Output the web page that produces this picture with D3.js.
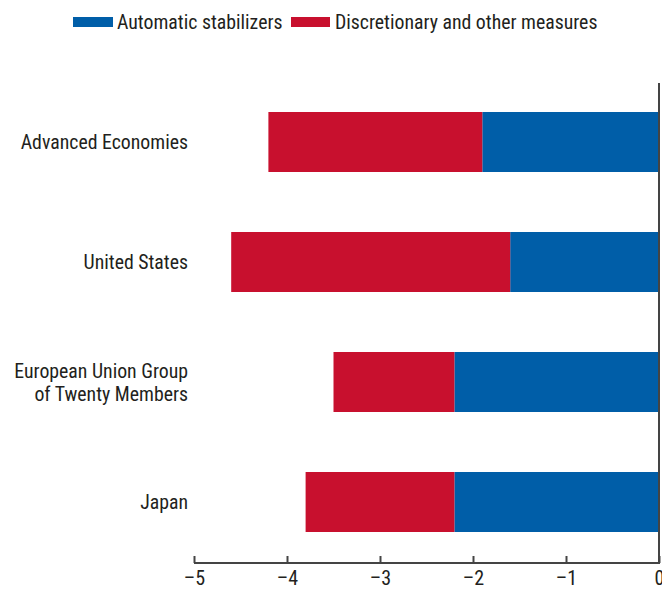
<!DOCTYPE html>
<html><head><meta charset="utf-8">
<script src="https://cdn.jsdelivr.net/npm/d3@7"></script>
<style>body{margin:0;background:#fff}svg{display:block}text{font-family:"Liberation Sans Narrow","Arial Narrow","Roboto Condensed",Roboto,sans-serif;fill:#231f20}</style>
</head><body><svg id="c" width="662" height="590"></svg>
<script>
const categories = [["Advanced Economies"],["United States"],["European Union Group","of Twenty Members"],["Japan"]];
const automatic = [-1.9, -1.6, -2.2, -2.2];
const discretionary = [-2.3, -3.0, -1.3, -1.6];
const seriesNames = ["Automatic stabilizers","Discretionary and other measures"];
const colors = ["#005ea8","#c8102e"];
const ticks = [-5,-4,-3,-2,-1,0];

const svg = d3.select("#c");
const x = d3.scaleLinear().domain([-5,0]).range([194,659]);
const y = d3.scaleBand().domain(d3.range(categories.length)).range([82,562]).paddingInner(0.5).paddingOuter(0.25);

const stack = categories.map((c,i)=>[[0,automatic[i]],[automatic[i],automatic[i]+discretionary[i]]]);
seriesNames.forEach((s,k)=>{
  svg.append("g").selectAll("rect").data(stack).join("rect")
    .attr("x",d=>x(Math.min(d[k][0],d[k][1])))
    .attr("width",d=>Math.abs(x(d[k][1])-x(d[k][0])))
    .attr("y",(d,i)=>y(i)).attr("height",y.bandwidth())
    .attr("fill",colors[k]);
});

// category labels
categories.forEach((lines,i)=>{
  const cy = y(i)+y.bandwidth()/2;
  const t = svg.append("text").attr("text-anchor","end").attr("font-size",19.8);
  lines.forEach((l,j)=>{
    t.append("tspan").attr("x",188).attr("y",cy + 7 + (j-(lines.length-1)/2)*23).text(l);
  });
});

// x axis
const ax = svg.append("g").attr("transform","translate(0,563)")
  .call(d3.axisBottom(x).tickValues(ticks).tickSize(-7).tickPadding(22).tickFormat(d=>d<0?"\u2013"+Math.abs(d):d));
ax.select(".domain").attr("stroke","#444").attr("stroke-width",2).attr("d","M"+x(-5)+",0H"+x(0));
ax.selectAll(".tick line").attr("stroke","#444").attr("stroke-width",2);
ax.selectAll(".tick text").attr("font-size",20).attr("font-family",'"Liberation Sans Narrow","Arial Narrow",Roboto,sans-serif').attr("fill","#231f20").attr("dy","0");
// zero line
svg.append("line").attr("x1",x(0)).attr("x2",x(0)).attr("y1",83).attr("y2",564).attr("stroke","#444").attr("stroke-width",2);

// legend
const leg = [{x:73,w:40,tx:117},{x:291,w:39,tx:335}];
seriesNames.forEach((s,k)=>{
  svg.append("rect").attr("x",leg[k].x).attr("y",17).attr("width",leg[k].w).attr("height",10).attr("fill",colors[k]);
  svg.append("text").attr("x",leg[k].tx).attr("y",29).attr("font-size",19.8).text(s);
});
</script></body></html>
